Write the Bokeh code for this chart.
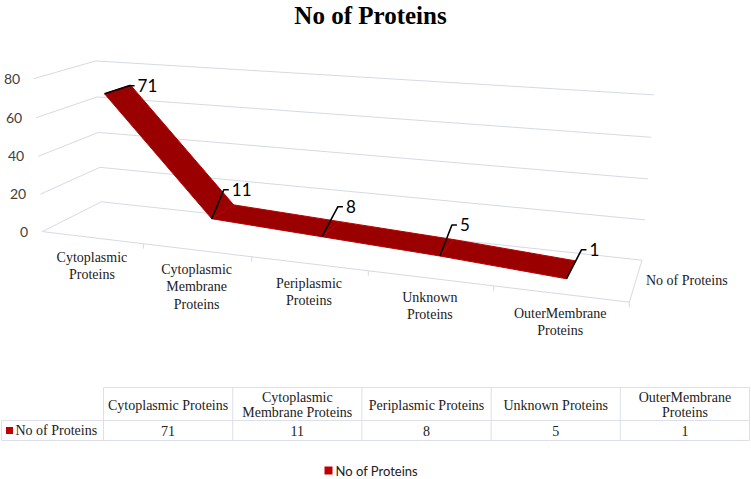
import numpy as np
from bokeh.plotting import figure
from bokeh.models import Range1d
from bokeh.embed import file_html
from bokeh.resources import INLINE
from bokeh.core.properties import value

# ---------------- data ----------------
categories = ["Cytoplasmic Proteins", "Cytoplasmic Membrane Proteins",
              "Periplasmic Proteins", "Unknown Proteins", "OuterMembrane Proteins"]
axis_labels = ["Cytoplasmic\nProteins", "Cytoplasmic\nMembrane\nProteins",
               "Periplasmic\nProteins", "Unknown\nProteins", "OuterMembrane\nProteins"]
table_headers = ["Cytoplasmic Proteins", "Cytoplasmic\nMembrane Proteins",
                 "Periplasmic Proteins", "Unknown Proteins", "OuterMembrane\nProteins"]
series_name = "No of Proteins"
counts = [71, 11, 8, 5, 1]
y_ticks = [0, 20, 40, 60, 80]
y_max = 80

# ---------------- layout / style ----------------
W, H = 751, 479
GRID = "#d6d9e5"
RED = "#9b0000"
KEY = "#c00000"
SERIF = value("Liberation Serif")
SANS = value("Lato")

# perspective camera fitted to the frame of the 3-D box (u: category, v: value, w: depth)
frame3 = [(0, 0, 0), (1, 0, 0), (0, 0, 1), (1, 0, 1), (0, 1, 0), (0, 1, 1), (1, 1, 1),
          (0, .25, 0), (0, .25, 1), (1, .25, 1), (1, .5, 1), (1, .75, 1),
          (.2, 0, 0), (.4, 0, 0), (.6, 0, 0), (.8, 0, 0)]
frame2 = [(43, 231), (628, 302), (100, 201), (642, 259), (32, 77), (97, 62), (654, 94),
          (40, 193), (98, 167), (645, 219), (647, 178), (650, 137),
          (143, 243), (252, 257), (368, 270), (493, 287)]


def fit_projection(p3, p2):
    rows = []
    for (X, Y, Z), (u, v) in zip(p3, p2):
        un, vn = (u - 375) / 300.0, (v - 240) / 300.0
        Xh = [X, Y, Z, 1.0]
        rows.append(Xh + [0, 0, 0, 0] + [-un * c for c in Xh])
        rows.append([0, 0, 0, 0] + Xh + [-vn * c for c in Xh])
    _, _, vt = np.linalg.svd(np.array(rows, float))
    return vt[-1].reshape(3, 4)


P = fit_projection(frame3, frame2)


def proj(u, v, w):
    h = P @ np.array([u, v, w, 1.0])
    return h[0] / h[2] * 300 + 375, h[1] / h[2] * 300 + 240


n = len(categories)
WF, WB = 0.3, 0.75  # ribbon depth band

p = figure(width=W, height=H, x_range=Range1d(0, W), y_range=Range1d(H, 0),
           output_backend="svg", toolbar_location=None, min_border=0)
p.xaxis.visible = False
p.yaxis.visible = False
p.xgrid.visible = False
p.ygrid.visible = False
p.outline_line_color = None
p.background_fill_color = "white"
p.border_fill_color = "white"

# title
p.text(x=[370], y=[15], text=[series_name], text_font=SERIF, text_font_style="bold",
       text_font_size=value("25px"), text_align="center", text_baseline="middle",
       text_color="black")

# gridlines: side wall + back wall
gx, gy = [], []
for t in y_ticks:
    v = t / y_max
    a, b, c = proj(0, v, 0), proj(0, v, 1), proj(1, v, 1)
    gx.append([a[0], b[0], c[0]])
    gy.append([a[1], b[1], c[1]])
# floor front and right edges
a, b, c = proj(0, 0, 0), proj(1, 0, 0), proj(1, 0, 1)
gx.append([a[0], b[0], c[0]])
gy.append([a[1], b[1], c[1]])
# category tick marks
for k in range(1, n + 1):
    q = proj(k / n, 0, 0)
    gx.append([q[0], q[0]])
    gy.append([q[1], q[1] + 5])
p.multi_line(xs=gx, ys=gy, line_color=GRID, line_width=1)

# value axis labels
for t in y_ticks:
    q = proj(0, t / y_max, 0)
    p.text(x=[q[0] - 14], y=[q[1]], text=[str(t)], text_font=SANS,
           text_font_size=value("14px"), text_align="right", text_baseline="middle",
           text_color="#404040")

# category labels
for i, lab in enumerate(axis_labels):
    q = proj((i + 0.5) / n, 0, 0)
    p.text(x=[q[0]], y=[q[1] + 12], text=[lab], text_font=SERIF,
           text_font_size=value("14px"), text_align="center", text_baseline="top",
           text_line_height=1.15, text_color="#222222")

# depth axis label
q = proj(1, 0, 0.5)
p.text(x=[q[0] + 10], y=[q[1]], text=[series_name], text_font=SERIF,
       text_font_size=value("14px"), text_align="left", text_baseline="middle",
       text_color="#222222")

# ribbon
front = [proj((i + 0.5) / n, c / y_max, WF) for i, c in enumerate(counts)]
back = [proj((i + 0.5) / n, c / y_max, WB) for i, c in enumerate(counts)]
rx, ry = [], []
for i in range(n - 1):
    pts = [front[i], front[i + 1], back[i + 1], back[i]]
    rx.append([pt[0] for pt in pts])
    ry.append([pt[1] for pt in pts])
p.patches(xs=rx, ys=ry, fill_color=RED, line_color="#b80000", line_width=1)

# data labels with leader lines
leader = [(25, -8), (12, -29), (16, -30), (12, -31), (15, -29)]
lx, ly = [], []
for (fx, fy), (dx, dy), c in zip(front, leader, counts):
    ex, ey = fx + dx, fy + dy
    lx.append([fx, ex, ex + 5])
    ly.append([fy, ey, ey])
    p.text(x=[ex + 8], y=[ey], text=[str(c)], text_font=SANS,
           text_font_size=value("17px"), text_align="left", text_baseline="middle",
           text_color="black")
p.multi_line(xs=lx, ys=ly, line_color="black", line_width=1.6)

# data table
tx0, tx1 = 103, 749
ty0, ty1, ty2 = 387, 420, 440
cols = [tx0 + k * (tx1 - tx0) / n for k in range(n + 1)]
bx, by = [], []
bx.append([tx0, tx1]); by.append([ty0, ty0])
bx.append([1, tx1]); by.append([ty1, ty1])
bx.append([1, tx1]); by.append([ty2, ty2])
bx.append([1, 1]); by.append([ty1, ty2])
for cx in cols:
    bx.append([cx, cx]); by.append([ty0, ty2])
p.multi_line(xs=bx, ys=by, line_color="#dde0ea", line_width=1)

for i in range(n):
    cx = (cols[i] + cols[i + 1]) / 2
    p.text(x=[cx], y=[(ty0 + ty1) / 2 + 1], text=[table_headers[i]], text_font=SERIF,
           text_font_size=value("14px"), text_align="center", text_baseline="middle",
           text_line_height=1.05, text_color="#222222")
    p.text(x=[cx], y=[(ty1 + ty2) / 2], text=[str(counts[i])], text_font=SERIF,
           text_font_size=value("14px"), text_align="center", text_baseline="middle",
           text_color="#222222")

p.scatter(x=[9], y=[(ty1 + ty2) / 2], marker="square", size=7, fill_color=KEY,
          line_color=None)
p.text(x=[15], y=[(ty1 + ty2) / 2], text=[series_name], text_font=SERIF,
       text_font_size=value("14px"), text_align="left", text_baseline="middle",
       text_color="#222222")

# legend
p.scatter(x=[328], y=[470], marker="square", size=8, fill_color=KEY, line_color=None)
p.text(x=[335], y=[470], text=[series_name], text_font=SANS,
       text_font_size=value("13px"), text_align="left", text_baseline="middle",
       text_color="#222222")

open("out.html", "w").write(file_html(p, INLINE))
